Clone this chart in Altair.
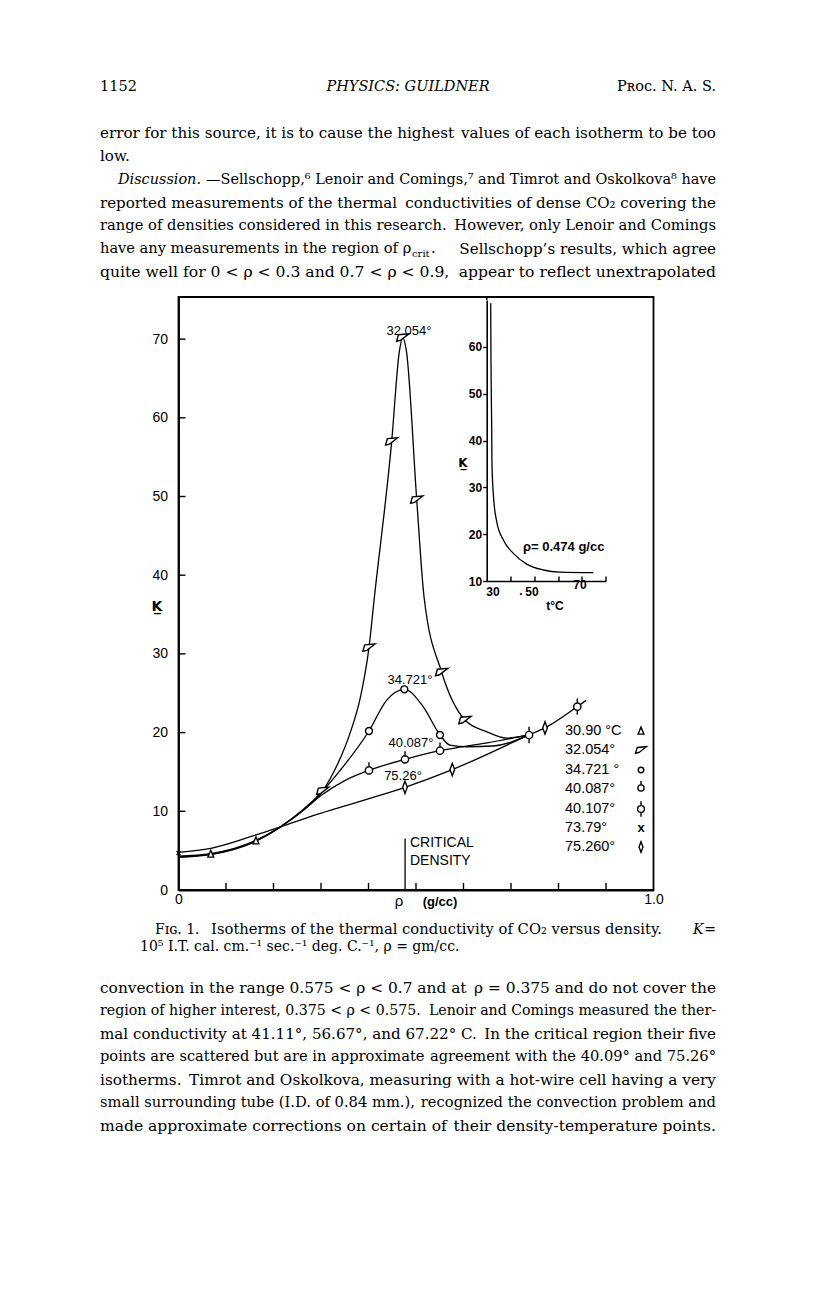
import altair as alt
import pandas as pd

# ---------------- page geometry (page pixels) ----------------
OX, OY = 178.5, 297.0      # top-left corner of the main plot frame on the page
W, H = 475, 593            # main plot area
KTOP = 75.35               # K value at the top frame
TX0, TX1 = 100, 716        # text block edges

SANS = "Liberation Sans"
SERIF = "DejaVu Serif"

# ---------------- main figure: measured points (density g/cc, K) ----------------
rho_3090 = [0.068, 0.163]
k_3090 = [4.57, 6.26]
rho_32054 = [0.3036, 0.401, 0.4488, 0.472, 0.5015, 0.554, 0.603]
k_32054 = [12.6, 30.8, 57.0, 70.2, 49.6, 27.7, 21.6]
rho_34721 = [0.401, 0.4754, 0.5505]
k_34721 = [20.2, 25.5, 19.7]
rho_40087 = [0.401, 0.4768, 0.5505]
k_40087 = [15.2, 16.6, 17.7]
rho_40107 = [0.738, 0.8396]
k_40107 = [19.7, 23.3]
rho_7379 = [0.0]
k_7379 = [4.7]
rho_75260 = [0.4768, 0.5764, 0.7716]
k_75260 = [13.05, 15.3, 20.6]

# ---------------- main figure: traced isotherm curves ----------------
c32_rho = [0.0, 0.068, 0.163, 0.2137, 0.26, 0.3036, 0.335, 0.361, 0.383, 0.401, 0.412, 0.4488,
           0.4649, 0.472, 0.480, 0.5015, 0.517, 0.554, 0.603, 0.649, 0.691, 0.738]
c32_k = [4.23, 4.57, 6.26, 8.0, 10.0, 12.6, 16.0, 19.9, 24.5, 30.8, 37.0, 57.0,
         68.4, 70.2, 68.4, 49.6, 37.2, 27.7, 21.6, 20.1, 19.3, 19.7]
c34_rho = [0.0, 0.068, 0.163, 0.2137, 0.26, 0.3036, 0.347, 0.401, 0.438, 0.4754, 0.515,
           0.5505, 0.5716, 0.6067, 0.6627, 0.738]
c34_k = [4.3, 4.62, 6.3, 8.0, 10.1, 12.6, 15.7, 20.2, 24.1, 25.5, 23.3,
         19.7, 18.4, 18.2, 18.3, 19.7]
c40_rho = [0.0, 0.068, 0.163, 0.2137, 0.26, 0.30, 0.35, 0.401, 0.4768, 0.5505, 0.65, 0.738]
c40_k = [4.15, 4.5, 6.2, 7.95, 10.0, 12.0, 13.9, 15.2, 16.6, 17.7, 18.7, 19.7]
c75_rho = [0.0, 0.068, 0.163, 0.2137, 0.297, 0.401, 0.4768, 0.5764, 0.738, 0.7716, 0.8396, 0.858]
c75_k = [4.79, 5.3, 7.0, 8.0, 9.7, 11.6, 13.05, 15.3, 19.7, 20.6, 23.3, 24.1]

x_ticks = [0.1, 0.2, 0.3, 0.4, 0.5, 0.6, 0.7, 0.8, 0.9]
y_ticks = [10, 20, 30, 40, 50, 60, 70]
y_labels = [0, 10, 20, 30, 40, 50, 60, 70]
crit_rho = [0.477]

# ---------------- inset: K at rho = 0.474 g/cc versus t (deg C) ----------------
in_t = [31.68, 31.8, 32.1, 32.2, 32.8, 34.2, 37.0, 41.2, 46.8, 53.8, 60.8, 74.8]
in_k = [69.3, 56.8, 42.6, 35.5, 28.4, 22.7, 18.75, 15.9, 13.6, 12.35, 11.9, 11.8]
in_x_ticks = [40, 50, 60, 70, 80]
in_y_ticks = [10, 20, 30, 40, 50, 60]

# ---------------- legend ----------------
legend_labels = ["30.90  °C", "32.054°", "34.721 °", "40.087°", "40.107°", "73.79°", "75.260°"]

# ---------------- marker shapes ----------------
TRI = "M0,-1 L0.75,0.8 L-0.75,0.8 Z"
FLAG = "M-0.7,-0.45 L1,-0.6 L-0.35,0.45 L-1,0.6 Z"
CIRC = "circle"
CIRC_T = "M0,-0.95 L0,-0.42 M0.42,0 A0.42,0.42 0 1,1 -0.42,0 A0.42,0.42 0 1,1 0.42,0 Z"
CIRC_TB = "M0,-0.95 L0,-0.42 M0,0.42 L0,0.95 M0.42,0 A0.42,0.42 0 1,1 -0.42,0 A0.42,0.42 0 1,1 0.42,0 Z"
XM = "M-0.6,-0.6 L0.6,0.6 M-0.6,0.6 L0.6,-0.6"
DIAM = "M0,-1 L0.38,0 L0,1 L-0.38,0 Z"

# ================= encodings =================
x_enc = alt.X("rho:Q", scale=alt.Scale(domain=[0, 1], nice=False, zero=False),
              axis=alt.Axis(values=[0, 1], labelExpr="datum.value == 0 ? '0' : '1.0'",
                            ticks=False, grid=False, title=None, labelFontSize=14,
                            labelPadding=2, labelFlush=False, domainWidth=1.8))
y_enc = alt.Y("K:Q", scale=alt.Scale(domain=[0, KTOP], nice=False, zero=False),
              axis=alt.Axis(values=y_labels, ticks=False, grid=False, title=None,
                            labelFontSize=14, labelPadding=11, labelFlush=False,
                            domainWidth=1.8))


def curve(rhos, ks):
    df = pd.DataFrame({"rho": rhos, "K": ks, "o": range(len(rhos))})
    return alt.Chart(df).mark_line(interpolate="monotone", color="black", strokeWidth=1.3).encode(
        x=x_enc, y=y_enc, order="o:Q")


def pts(rhos, ks, shape, size, sw=1.4):
    df = pd.DataFrame({"rho": rhos, "K": ks})
    return alt.Chart(df).mark_point(shape=shape, size=size, filled=True, fill="white",
                                    stroke="black", strokeWidth=sw, opacity=1).encode(x=x_enc, y=y_enc)


dummy = pd.DataFrame({"d": [0]})


def txt(s, px, py, size=14, font=SANS, align="left", weight="normal", style="normal", baseline="middle"):
    return alt.Chart(dummy).mark_text(text=s, align=align, baseline=baseline, font=font, fontSize=size,
                                      fontWeight=weight, fontStyle=style, color="black").encode(
        x=alt.value(px - OX), y=alt.value(py - OY))


def jline(left, right, py, size):
    """justified text line: left part flush left, right part flush right"""
    return [txt(left, TX0, py, size=size, font=SERIF),
            txt(right, TX1, py, size=size, font=SERIF, align="right")]


def sym(shape, px, py, size, sw=1.4):
    return alt.Chart(dummy).mark_point(shape=shape, size=size, filled=True, fill="white",
                                       stroke="black", strokeWidth=sw, opacity=1).encode(
        x=alt.value(px - OX), y=alt.value(py - OY))


layers = []
# inward ticks
layers.append(alt.Chart(pd.DataFrame({"rho": x_ticks})).mark_rule(color="black", strokeWidth=1.4).encode(
    x=x_enc, y=alt.value(H), y2=alt.value(H - 7)))
layers.append(alt.Chart(pd.DataFrame({"K": y_ticks})).mark_rule(color="black", strokeWidth=1.4).encode(
    y=y_enc, x=alt.value(0), x2=alt.value(7)))
# critical density line
layers.append(alt.Chart(pd.DataFrame({"rho": crit_rho})).mark_rule(color="black", strokeWidth=1.3).encode(
    x=x_enc, y=alt.value(H), y2=alt.value(838.5 - OY)))
# curves
for r, k in [(c32_rho, c32_k), (c34_rho, c34_k), (c40_rho, c40_k), (c75_rho, c75_k)]:
    layers.append(curve(r, k))
# markers
layers.append(pts(rho_3090, k_3090, TRI, 60))
layers.append(pts(rho_32054, k_32054, FLAG, 150))
layers.append(pts(rho_34721, k_34721, CIRC, 48))
layers.append(pts(rho_40087, k_40087, CIRC_T, 300))
layers.append(pts(rho_40107, k_40107, CIRC_TB, 300))
layers.append(pts(rho_7379, k_7379, XM, 40))
layers.append(pts(rho_75260, k_75260, DIAM, 150))

# curve labels
layers.append(txt("32.054°", 409, 331, size=13, align="center"))
layers.append(txt("34.721°", 410, 680, size=13, align="center"))
layers.append(txt("40.087°", 411, 743, size=13, align="center"))
layers.append(txt("75.26°", 403, 776, size=13, align="center"))

# critical density text
layers.append(txt("CRITICAL", 410, 842.5, size=14))
layers.append(txt("DENSITY", 410, 860.5, size=14))

# axis titles
layers.append(txt("K\u0332", 157, 607, size=14, font="DejaVu Sans", weight="bold", align="center"))
layers.append(txt("ρ", 399, 901, size=15, align="center"))
layers.append(txt("(g/cc)", 440, 902, size=13, align="center", weight="bold"))

# legend
leg_y = [731, 750, 770, 789, 809, 828, 847]
for lab, yy in zip(legend_labels, leg_y):
    layers.append(txt(lab, 565, yy, size=14.5))
layers.append(sym(TRI, 641, leg_y[0], 60))
layers.append(sym(FLAG, 641, leg_y[1], 120))
layers.append(sym(CIRC, 641, leg_y[2], 30))
layers.append(sym(CIRC_T, 641, leg_y[3] - 1, 220))
layers.append(sym(CIRC_TB, 641, leg_y[4], 260))
layers.append(txt("x", 641, leg_y[5], size=13, align="center", weight="bold"))
layers.append(sym(DIAM, 641, leg_y[6], 110))

# inset annotations
layers.append(txt("K\u0332", 463, 463, size=12, font="DejaVu Sans", weight="bold", align="center"))
layers.append(txt("30", 493, 592, size=12, weight="bold", align="center"))
layers.append(txt(".", 521, 591, size=12, weight="bold", align="center"))
layers.append(txt("50", 532, 592, size=12, weight="bold", align="center"))
layers.append(txt("70", 580, 585, size=12, weight="bold", align="center"))
layers.append(txt("t°C", 555, 606, size=12, weight="bold", align="center"))
layers.append(txt("ρ= 0.474 g/cc", 523, 547, size=13, weight="bold"))

# ---------------- page text ----------------
layers.append(txt("1152", 100, 87, size=14.5, font=SERIF))
layers.append(txt("PHYSICS: GUILDNER", 408, 87, size=14.5, font=SERIF, style="italic", align="center"))
layers.append(txt("Pʀᴏᴄ. N. A. S.", 716, 87, size=14.5, font=SERIF, align="right"))

layers += jline("error for this source, it is to cause the highest",
                "values of each isotherm to be too", 133, 15.15)
layers.append(txt("low.", 100, 156, size=15.1, font=SERIF))
layers.append(txt("Discussion.", 118, 180, size=14.45, font=SERIF, style="italic"))
layers.append(txt("—Sellschopp,⁶ Lenoir and Comings,⁷ and Timrot and Oskolkova⁸ have", 716, 180,
                  size=14.45, font=SERIF, align="right"))
layers += jline("reported measurements of the thermal",
                "conductivities of dense CO₂ covering the", 203, 15.05)
layers += jline("range of densities considered in this research.",
                "However, only Lenoir and Comings", 226, 14.72)
layers.append(txt("have any measurements in the region of ρ", 100, 249, size=14.6, font=SERIF))
layers.append(txt("crit", 412, 253.5, size=10, font=SERIF))
layers.append(txt(".", 431, 249, size=14.6, font=SERIF))
layers.append(txt("Sellschopp’s results, which agree", 716, 249, size=15.1, font=SERIF, align="right"))
layers += jline("quite well for 0 < ρ < 0.3 and 0.7 < ρ < 0.9,",
                "appear to reflect unextrapolated", 272, 15.6)

layers.append(txt("Fɪɢ. 1.", 155, 930, size=14, font=SERIF))
layers.append(txt("Isotherms of the thermal conductivity of CO₂ versus density.", 662, 930,
                  size=14.75, font=SERIF, align="right"))
layers.append(txt("K", 693, 930, size=14, font=SERIF, style="italic"))
layers.append(txt("=", 716, 930, size=14, font=SERIF, align="right"))
layers.append(txt("10⁵ I.T. cal. cm.⁻¹ sec.⁻¹ deg. C.⁻¹, ρ = gm/cc.", 140, 947, size=14, font=SERIF))

bottom_lines = [
    ("convection in the range 0.575 < ρ < 0.7 and at", "ρ = 0.375 and do not cover the", 15.4),
    ("region of higher interest, 0.375 < ρ < 0.575.", "Lenoir and Comings measured the ther-", 14.15),
    ("mal conductivity at 41.11°, 56.67°, and 67.22° C.", "In the critical region their five", 15.1),
    ("points are scattered but are in approximate", "agreement with the 40.09° and 75.26°", 14.65),
    ("isotherms.", "Timrot and Oskolkova, measuring with a hot-wire cell having a very", 15.3),
    ("small surrounding tube (I.D. of 0.84 mm.),", "recognized the convection problem and", 14.7),
    ("made approximate corrections on certain of", "their density-temperature points.", 15.55),
]
for i, (a, b, fs) in enumerate(bottom_lines):
    layers += jline(a, b, 988 + 23 * i, fs)

main = alt.layer(*layers)

# ---------------- inset layer (own scales, placed inside the main frame) ----------------
ix = alt.X("t:Q", scale=alt.Scale(domain=[30, 80], range=[486.7 - OX, 605.7 - OX], nice=False, zero=False),
           axis=alt.Axis(orient="top", offset=-(581 - OY), values=in_x_ticks, labels=False, tickSize=5,
                         tickWidth=1.4, domainWidth=1.6, title=None, grid=False))
iy = alt.Y("K:Q", scale=alt.Scale(domain=[10, 70], range=[581 - OY, 300 - OY], nice=False, zero=False),
           axis=alt.Axis(orient="left", offset=-(486.7 - OX), values=in_y_ticks, tickSize=4, tickWidth=1.4,
                         labelPadding=1, labelFontSize=12, labelFontWeight="bold", domainWidth=1.6,
                         title=None, grid=False, labelFlush=False))
inset_curve = alt.Chart(pd.DataFrame({"t": in_t, "K": in_k})).mark_line(
    interpolate="monotone", color="black", strokeWidth=1.3).encode(x=ix, y=iy)
# inset y-axis line continues up to the frame
inset_axis_top = alt.Chart(pd.DataFrame({"t": [30]})).mark_rule(color="black", strokeWidth=1.6).encode(
    x=ix, y=alt.value(0), y2=alt.value(300 - OY))
inset = alt.layer(inset_curve, inset_axis_top)

chart = alt.layer(main, inset).resolve_scale(x="independent", y="independent").properties(
    width=W, height=H,
    padding={"left": OX - 8, "top": OY - 8, "right": 150, "bottom": 390},
    autosize=alt.AutoSizeParams(type="none"),
    background="white",
).configure_view(stroke="black", strokeWidth=1.8).configure_axis(
    labelFont=SANS, labelColor="black", domainColor="black", tickColor="black")

chart.save("out.html", embed_options={"renderer": "svg", "actions": False})
